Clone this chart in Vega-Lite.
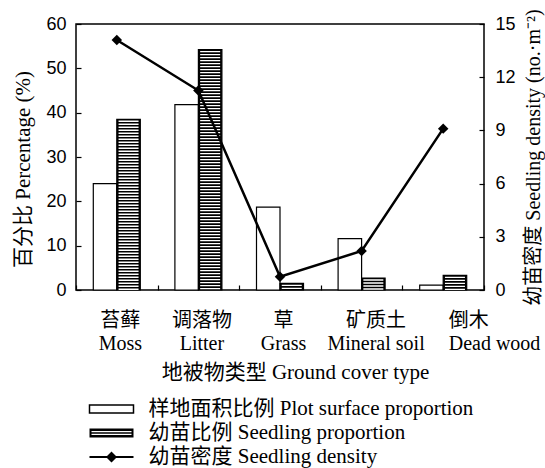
{
  "$schema": "https://vega.github.io/schema/vega-lite/v6.json",
  "autosize": "none",
  "width": 408,
  "height": 266,
  "padding": {"left": 76, "top": 24, "right": 61, "bottom": 178},
  "background": "white",
  "config": {
    "view": {"stroke": "black", "strokeWidth": 1.5},
    "axis": {
      "labelColor": "black", "titleColor": "black", "tickColor": "black",
      "domain": false, "grid": false,
      "labelFont": "Liberation Sans", "labelFontSize": 18,
      "titleFont": "Liberation Serif, Noto Sans CJK SC", "titleFontSize": 21, "titleFontWeight": "normal",
      "tickSize": -5, "tickWidth": 1.2
    },
    "legend": {"padding": 0}
  },
  "datasets": {
    "bars": [
      {"cat": "苔藓|Moss", "series": "样地面积比例 Plot surface proportion", "pct": 24.0},
      {"cat": "苔藓|Moss", "series": "幼苗比例 Seedling proportion", "pct": 38.5},
      {"cat": "调落物|Litter", "series": "样地面积比例 Plot surface proportion", "pct": 41.8},
      {"cat": "调落物|Litter", "series": "幼苗比例 Seedling proportion", "pct": 54.2},
      {"cat": "草|Grass", "series": "样地面积比例 Plot surface proportion", "pct": 18.7},
      {"cat": "草|Grass", "series": "幼苗比例 Seedling proportion", "pct": 1.5},
      {"cat": "矿质土|Mineral soil", "series": "样地面积比例 Plot surface proportion", "pct": 11.6},
      {"cat": "矿质土|Mineral soil", "series": "幼苗比例 Seedling proportion", "pct": 2.7},
      {"cat": "倒木|Dead wood", "series": "样地面积比例 Plot surface proportion", "pct": 1.1},
      {"cat": "倒木|Dead wood", "series": "幼苗比例 Seedling proportion", "pct": 3.3}
    ],
    "dens": [
      {"cat": "苔藓|Moss", "density": 14.1},
      {"cat": "调落物|Litter", "density": 11.25},
      {"cat": "草|Grass", "density": 0.75},
      {"cat": "矿质土|Mineral soil", "density": 2.2},
      {"cat": "倒木|Dead wood", "density": 9.1}
    ]
  },
  "layer": [
    {
      "data": {"name": "bars"},
      "layer": [
        {
          "mark": {"type": "bar", "stroke": "black", "strokeWidth": 1.2},
          "encoding": {
            "x": {
              "field": "cat", "type": "nominal", "sort": null,
              "scale": {"paddingInner": 0, "paddingOuter": 0},
              "axis": {
                "title": "地被物类型 Ground cover type",
                "labelExpr": "split(datum.label, '|')",
                "labelAngle": 0,
                "labelFont": "Liberation Serif, Noto Sans CJK SC",
                "labelFontSize": 20,
                "labelLineHeight": 23,
                "labelPadding": 25,
                "labelOffset": {"condition": [{"test": "datum.value == '矿质土|Mineral soil'", "value": 14}, {"test": "datum.value == '倒木|Dead wood'", "value": 5}], "value": 3},
                "labelAlign": {"condition": {"test": "datum.value == '倒木|Dead wood'", "value": "left"}, "value": "center"},
                "tickBand": "extent",
                "titlePadding": 8,
                "titleX": 219
              }
            },
            "xOffset": {
              "field": "series", "type": "nominal", "sort": null,
              "scale": {"domain": ["样地面积比例 Plot surface proportion", "幼苗比例 Seedling proportion"], "paddingInner": 0, "paddingOuter": 0.736}
            },
            "y": {
              "field": "pct", "type": "quantitative",
              "scale": {"domain": [0, 60], "nice": false},
              "axis": {
                "title": "百分比 Percentage (%)",
                "values": [0, 10, 20, 30, 40, 50, 60],
                "labelPadding": 15,
                "titleY": 145,
                "titlePadding": 12
              }
            },
            "fill": {
              "field": "series", "type": "nominal",
              "scale": {
                "domain": ["样地面积比例 Plot surface proportion", "幼苗比例 Seedling proportion", "幼苗密度 Seedling density"],
                "range": ["white", "black", "black"]
              },
              "legend": {
                "title": null,
                "orient": "none",
                "legendX": 24.5,
                "legendY": 374,
                "symbolSize": 400,
                "symbolStrokeColor": "black",
                "symbolStrokeWidth": 1.5,
                "labelFont": "Liberation Serif, Noto Sans CJK SC",
                "labelFontSize": 21,
                "labelColor": "black",
                "labelOffset": 26,
                "labelLimit": 500,
                "rowPadding": 3,
                "encode": {
                  "symbols": {
                    "update": {
                      "shape": {"signal": "datum.value == '样地面积比例 Plot surface proportion' ? 'M-2.2,-0.4H2.2V0.4H-2.2Z' : datum.value == '幼苗比例 Seedling proportion' ? 'M-2.2,-0.45H2.2V0.45H-2.2Z M-2.0,-0.2V-0.08H2.0V-0.2Z M-2.0,0.08V0.2H2.0V0.08Z' : 'M-2.2,-0.1H2.2V0.1H-2.2Z M0,-0.55L0.55,0L0,0.55L-0.55,0Z'"},
                      "fill": {"signal": "datum.value == '样地面积比例 Plot surface proportion' ? 'white' : 'black'"},
                      "stroke": {"signal": "datum.value == '样地面积比例 Plot surface proportion' ? 'black' : 'transparent'"},
                      "opacity": {"value": 1},
                      "fillOpacity": {"value": 1}
                    }
                  }
                }
              }
            }
          }
        },
        {
          "transform": [{"filter": "datum.series == '幼苗比例 Seedling proportion'"}],
          "mark": {"type": "rule", "color": "white", "strokeWidth": 20, "strokeDash": [1.3, 1.7], "strokeDashOffset": 1.7},
          "encoding": {
            "x": {"field": "cat", "type": "nominal", "sort": null},
            "xOffset": {"field": "series", "type": "nominal", "sort": null},
            "y": {"field": "pct", "type": "quantitative"},
            "y2": {"datum": 0}
          }
        }
      ]
    },
    {
      "data": {"name": "dens"},
      "encoding": {
        "x": {"field": "cat", "type": "nominal", "sort": null},
        "y": {
          "field": "density", "type": "quantitative",
          "scale": {"domain": [0, 15], "nice": false},
          "axis": {
            "orient": "right",
            "title": "幼苗密度 Seedling density (no.·m⁻²)",
            "titleFontSize": 20,
            "values": [0, 3, 6, 9, 12, 15],
            "labelPadding": 16,
            "titleAngle": 270,
            "titleBaseline": "top",
            "titlePadding": 8
          }
        }
      },
      "layer": [
        {"mark": {"type": "line", "color": "black", "strokeWidth": 2.5}},
        {"mark": {"type": "point", "shape": "diamond", "filled": true, "color": "black", "size": 110, "opacity": 1}}
      ]
    }
  ],
  "resolve": {"scale": {"y": "independent"}}
}
